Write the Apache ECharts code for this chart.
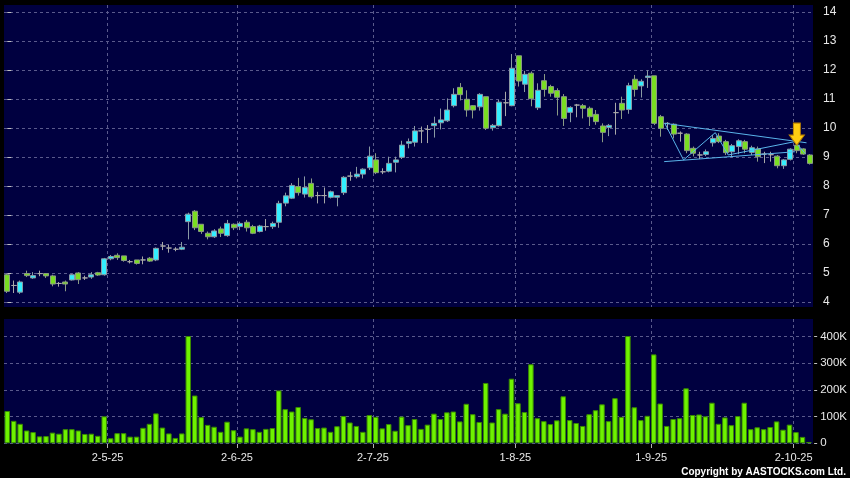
<!DOCTYPE html>
<html><head><meta charset="utf-8">
<script src="https://cdn.jsdelivr.net/npm/echarts@6/dist/echarts.min.js"></script>
<style>html,body{margin:0;padding:0;background:#000;}#c{width:850px;height:478px;}</style>
</head><body><div id="c"></div>
<script>
// Trading days (D-M-YY)
const dates = [
 '7-4-25','8-4-25','9-4-25','10-4-25','11-4-25','14-4-25','15-4-25','16-4-25','17-4-25','22-4-25','23-4-25','24-4-25','25-4-25','28-4-25','29-4-25','30-4-25',
 '2-5-25','6-5-25','7-5-25','8-5-25','9-5-25','12-5-25','13-5-25','14-5-25','15-5-25','16-5-25','19-5-25','20-5-25','21-5-25','22-5-25','23-5-25','26-5-25','27-5-25','28-5-25','29-5-25','30-5-25',
 '2-6-25','3-6-25','4-6-25','5-6-25','6-6-25','9-6-25','10-6-25','11-6-25','12-6-25','13-6-25','16-6-25','17-6-25','18-6-25','19-6-25','20-6-25','23-6-25','24-6-25','25-6-25','26-6-25','27-6-25','30-6-25',
 '2-7-25','3-7-25','4-7-25','7-7-25','8-7-25','9-7-25','10-7-25','11-7-25','14-7-25','15-7-25','16-7-25','17-7-25','18-7-25','21-7-25','22-7-25','23-7-25','24-7-25','25-7-25','28-7-25','29-7-25','30-7-25','31-7-25',
 '1-8-25','4-8-25','5-8-25','6-8-25','7-8-25','8-8-25','11-8-25','12-8-25','13-8-25','14-8-25','15-8-25','18-8-25','19-8-25','20-8-25','21-8-25','22-8-25','25-8-25','26-8-25','27-8-25','28-8-25','29-8-25',
 '1-9-25','2-9-25','3-9-25','4-9-25','5-9-25','8-9-25','9-9-25','10-9-25','11-9-25','12-9-25','15-9-25','16-9-25','17-9-25','18-9-25','19-9-25','22-9-25','23-9-25','24-9-25','25-9-25','26-9-25','29-9-25','30-9-25',
 '2-10-25','3-10-25','6-10-25'
];
const tickLabels = ['2-5-25','2-6-25','2-7-25','1-8-25','1-9-25','2-10-25'];
const priceTicks = [4,5,6,7,8,9,10,11,12,13,14];
const volumeTicks = [0,100000,200000,300000,400000];

const opens = [4.94,4.57,4.34,4.98,4.83,4.98,4.98,4.90,4.64,4.69,
 4.76,5.00,4.83,4.86,5.01,4.94,5.49,5.61,5.59,5.39,
 5.45,5.45,5.51,5.45,5.93,5.86,5.82,5.82,6.77,7.13,
 6.68,6.37,6.25,6.52,6.29,6.68,6.60,6.75,6.60,6.43,
 6.60,6.60,6.75,7.41,7.58,7.98,7.72,8.09,7.67,7.67,
 7.61,7.61,7.77,8.34,8.32,8.41,8.63,8.90,8.49,8.51,
 8.82,8.99,9.47,9.51,9.90,9.95,10.08,10.18,10.25,10.77,
 11.40,10.99,10.77,10.73,11.08,10.01,10.08,10.87,10.77,12.49,
 11.51,11.89,10.70,11.63,11.43,11.29,11.08,10.54,10.79,10.77,
 10.68,10.47,10.07,10.02,10.53,10.85,10.64,11.68,11.45,11.74,
 11.80,10.39,10.16,10.13,9.82,9.79,9.30,9.07,9.09,9.49,
 9.72,9.53,9.18,9.36,9.53,9.16,9.28,9.10,9.08,9.03,
 8.70,8.92,9.41,9.28,9.07];
const closes = [4.37,4.57,4.69,4.91,4.91,4.98,4.90,4.62,4.64,4.62,
 4.94,4.77,4.83,4.94,4.93,5.49,5.57,5.53,5.43,5.39,
 5.33,5.45,5.41,5.85,5.93,5.86,5.82,5.89,7.03,6.56,
 6.43,6.25,6.45,6.37,6.71,6.56,6.71,6.56,6.37,6.62,
 6.60,6.71,7.40,7.66,8.02,7.77,7.95,7.63,7.67,7.67,
 7.80,7.67,8.30,8.34,8.41,8.58,9.03,8.46,8.49,8.78,
 8.90,9.41,9.53,9.90,9.90,9.95,10.16,10.28,10.62,11.16,
 11.15,10.62,10.62,11.16,9.99,10.09,10.89,10.87,12.06,11.62,
 11.85,11.01,11.30,11.33,11.20,11.06,10.33,10.71,10.79,10.68,
 10.39,10.22,9.85,10.09,10.53,10.62,11.46,11.33,11.61,11.79,
 10.16,9.99,10.16,9.79,9.82,9.22,9.13,9.07,9.18,9.64,
 9.53,9.15,9.39,9.56,9.27,9.32,9.01,9.10,9.08,8.70,
 8.90,9.27,9.22,9.10,8.78];
const lows = [4.31,4.31,4.28,4.86,4.80,4.89,4.83,4.54,4.53,4.37,
 4.74,4.62,4.76,4.80,4.90,4.91,5.44,5.45,5.39,5.33,
 5.29,5.30,5.38,5.41,5.79,5.70,5.75,5.79,6.16,6.48,
 6.35,6.16,6.21,6.24,6.25,6.48,6.48,6.43,6.34,6.40,
 6.46,6.52,6.56,7.30,7.55,7.67,7.60,7.57,7.40,7.40,
 7.57,7.30,7.69,8.18,8.26,8.26,8.55,8.41,8.41,8.47,
 8.47,8.93,9.30,9.36,9.48,9.48,9.67,9.95,10.21,10.71,
 10.95,10.39,10.33,10.60,9.93,9.91,10.05,10.41,10.75,11.43,
 11.24,10.75,10.62,11.08,11.08,10.43,10.07,10.20,10.37,10.33,
 10.07,10.11,9.51,9.72,9.77,10.31,10.49,11.08,11.05,11.38,
 10.10,9.70,9.93,9.64,9.53,9.13,9.02,8.93,9.03,9.36,
 9.48,9.07,8.99,9.10,9.13,9.07,8.84,8.79,8.84,8.61,
 8.59,8.88,9.13,9.07,8.74];
const highs = [4.98,4.74,4.74,5.08,5.03,5.08,5.00,4.94,4.69,4.74,
 4.97,5.03,4.91,5.03,5.04,5.52,5.62,5.68,5.59,5.45,
 5.45,5.57,5.55,5.88,6.07,5.97,5.89,6.07,7.08,7.17,
 6.68,6.43,6.51,6.60,6.83,6.71,6.77,6.83,6.66,6.66,
 6.86,6.77,7.49,7.77,8.10,8.28,8.33,8.26,7.80,7.95,
 7.84,7.67,8.34,8.49,8.66,8.61,9.36,9.13,8.61,9.01,
 9.01,9.56,9.64,10.07,10.05,10.10,10.39,10.67,11.02,11.37,
 11.55,11.30,10.79,11.20,11.08,10.14,10.97,11.25,12.55,12.49,
 11.97,11.95,11.54,11.86,11.49,11.37,11.17,10.75,10.83,10.83,
 10.74,10.62,10.16,10.14,10.87,11.08,11.56,11.83,11.68,11.99,
 11.80,10.45,10.20,10.16,9.88,9.82,9.36,9.18,9.26,9.76,
 9.82,9.59,9.45,9.61,9.59,9.39,9.36,9.18,9.18,9.07,
 8.93,9.30,9.53,9.30,9.10];
// volume in thousands of shares
const volumesK = [121,84,73,48,42,26,27,40,36,53,
 53,48,35,36,28,101,19,38,38,25,
 25,58,73,112,59,37,20,37,437,179,
 98,69,62,43,81,49,25,56,53,43,
 54,57,198,128,119,136,95,90,57,59,
 43,64,102,78,65,43,106,99,56,72,
 47,100,68,91,54,70,111,91,116,119,
 82,148,109,80,226,78,128,111,242,150,
 117,296,94,83,72,86,176,87,76,65,
 109,124,146,83,169,99,412,135,87,103,
 333,149,65,91,94,206,106,108,101,152,
 73,97,68,102,152,53,60,53,61,82,
 51,70,42,24,5];

// Annotation (triangle pattern) points: [bar index, price]
const zigzagPts = [[101.6,10.16],[104.5,8.90],[109.4,9.84],[111.4,9.07],[121.7,9.53],[123.3,9.12]];
const upperTrend = [[101.6,10.16],[123.5,9.49]];
const lowerTrend = [[101.5,8.84],[121.7,9.18]];
const arrowAt = ['2-10-25', 9.79];

const ohlc = opens.map((o,i)=>[o, closes[i], lows[i], highs[i]]);
const volumes = volumesK.map(v=>v*1000);
const backdropCats = dates.concat(['']);

const FONT = '"Liberation Sans", Arial, sans-serif';
const gridLine = {show:true, lineStyle:{color:'#5a5a8c', width:1, type:[3,3]}};
const showMonth = (i, v) => tickLabels.indexOf(v) >= 0;
const annLine = {color:'#5ab4ea', width:1};

const chart = echarts.init(document.getElementById('c'), null, {renderer:'canvas'});
chart.setOption({
  backgroundColor:'#000000',
  animation:false,
  grid:[
    {left:4, top:5, width:809, height:302, show:true, backgroundColor:'#000040', borderWidth:0},
    {left:4, top:12, width:809, height:290},
    {left:4, top:319, width:809, height:125, show:true, backgroundColor:'#000040', borderWidth:0},
    {left:4, top:336.5, width:809, height:106.8}
  ],
  xAxis:[
    {type:'category', gridIndex:0, data:backdropCats, boundaryGap:false,
     axisLine:{show:false}, axisTick:{show:false}, axisLabel:{show:false},
     splitLine:Object.assign({interval:showMonth}, gridLine)},
    {type:'category', gridIndex:1, data:dates, boundaryGap:true,
     axisLine:{show:false}, axisTick:{show:false}, axisLabel:{show:false}, splitLine:{show:false}},
    {type:'category', gridIndex:2, data:backdropCats, boundaryGap:false,
     axisLine:{show:false},
     axisTick:{show:true, interval:showMonth, length:4, lineStyle:{color:'#b0b0b0'}},
     axisLabel:{show:true, interval:showMonth, color:'#e8e8e8', fontSize:11, fontFamily:FONT, margin:8},
     splitLine:Object.assign({interval:showMonth}, gridLine)},
    {type:'category', gridIndex:3, data:dates, boundaryGap:true,
     axisLine:{show:false}, axisTick:{show:false}, axisLabel:{show:false}, splitLine:{show:false}},
    {type:'value', gridIndex:1, position:'top', min:-0.5, max:dates.length-0.5, show:false}
  ],
  yAxis:[
    {type:'value', gridIndex:0, show:false},
    {type:'value', gridIndex:1, position:'right', offset:3,
     min:priceTicks[0], max:priceTicks[priceTicks.length-1], interval:1,
     axisLine:{show:false},
     axisTick:{show:true, length:4, lineStyle:{color:'#c0c0c0'}},
     axisLabel:{color:'#e8e8e8', fontSize:12, fontFamily:FONT, margin:7},
     splitLine:gridLine},
    {type:'value', gridIndex:2, show:false},
    {type:'value', gridIndex:3, position:'right', offset:2,
     min:volumeTicks[0], max:volumeTicks[volumeTicks.length-1], interval:100000,
     axisLine:{show:false},
     axisTick:{show:true, length:3, lineStyle:{color:'#c0c0c0'}},
     axisLabel:{color:'#e8e8e8', fontSize:11.5, fontFamily:FONT, margin:6,
       formatter:v => v === 0 ? '0' : (v/1000) + 'K'},
     splitLine:gridLine}
  ],
  series:[
    {type:'candlestick', xAxisIndex:1, yAxisIndex:1, data:ohlc, barWidth:5.5,
     itemStyle:{color:'#33eeff', color0:'#7ade22', borderColor:'#8a9aa4', borderColor0:'#8a9a84',
       borderColorDoji:'#a8a8a8', borderWidth:1},
     markPoint:{silent:true, symbol:'path://M4,0 H11 V12 H15 L7.5,22 L0,12 H4 Z', symbolSize:[15,22],
       itemStyle:{color:'#ffcc11', borderColor:'#c08400', borderWidth:1},
       label:{show:false},
       data:[{coord:arrowAt}]}
    },
    {type:'line', xAxisIndex:4, yAxisIndex:1, data:zigzagPts, symbol:'none', silent:true, lineStyle:annLine, z:3},
    {type:'line', xAxisIndex:4, yAxisIndex:1, data:upperTrend, symbol:'none', silent:true, lineStyle:annLine, z:3},
    {type:'line', xAxisIndex:4, yAxisIndex:1, data:lowerTrend, symbol:'none', silent:true, lineStyle:annLine, z:3},
    {type:'bar', xAxisIndex:3, yAxisIndex:3, data:volumes, barWidth:5.5,
     itemStyle:{color:'#6ef200', borderColor:'#3a8a00', borderWidth:1}}
  ],
  graphic:[
    {type:'text', right:4, bottom:1, silent:true,
     style:{text:'Copyright by AASTOCKS.com Ltd.', fill:'#ffffff', font:'bold 10px ' + FONT}}
  ]
});
</script>
</body></html>
